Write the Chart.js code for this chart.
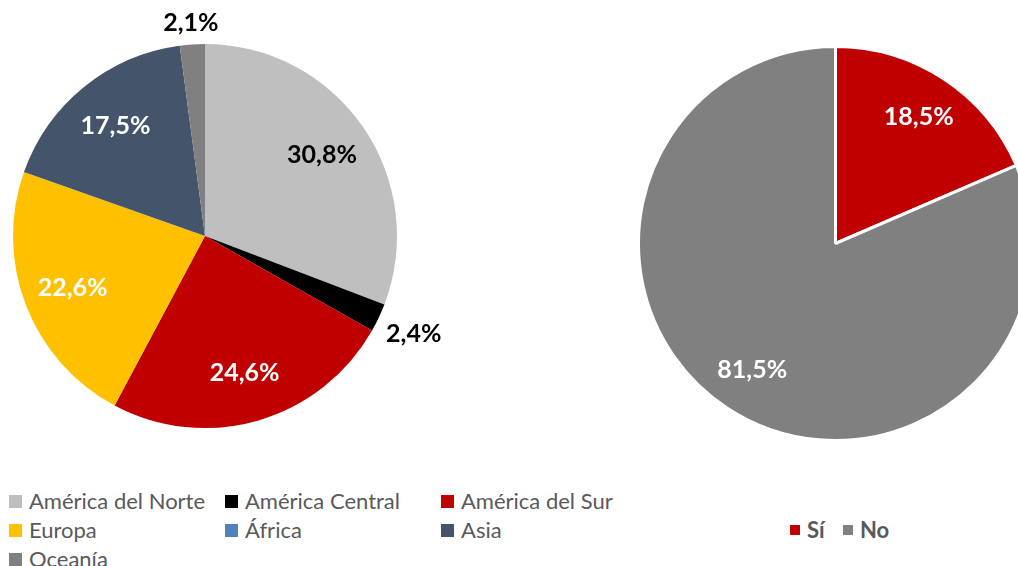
<!DOCTYPE html>
<html>
<head>
<meta charset="utf-8">
<script src="https://cdn.jsdelivr.net/npm/chart.js@4"></script>
<style>
    body { margin: 0; background: #fff; overflow: hidden; width: 1018px; height: 566px; position: relative; font-family: Lato, 'Open Sans', sans-serif; }
    canvas { position: absolute; }
    #izq { left: 0; top: 0; }
    #der { left: 600px; top: 0; }
    .item { position: absolute; color: #595959; font-size: 22px; line-height: 28px; white-space: nowrap; }
    .item span { position: absolute; top: 50%; }
    .bold { font-weight: bold; }
</style>
</head>
<body>
<canvas id="izq" width="450" height="475"></canvas>
<canvas id="der" width="460" height="475"></canvas>
<div id="leyendas"></div>

<script>
// datos de las regiones
const regiones = ['América del Norte', 'América Central', 'América del Sur', 'Europa', 'África', 'Asia', 'Oceanía']
const porcRegiones = [30.8, 2.4, 24.6, 22.6, 0, 17.5, 2.1]
const coloresRegiones = ['#BFBFBF', '#000000', '#C00000', '#FFC000', '#4F81BD', '#44546A', '#808080']
const textoRegiones = ['#000', '#000', '#fff', '#fff', '#fff', '#fff', '#000']
const fueraRegiones = [false, true, false, false, false, false, true]

// datos sí / no
const respuestas = ['Sí', 'No']
const porcRespuestas = [18.5, 81.5]
const coloresRespuestas = ['#C00000', '#808080']
const textoRespuestas = ['#fff', '#fff']

const etiquetas = {
    id: 'etiquetas',
    afterDatasetsDraw(chart, args, opts) {
        const ctx = chart.ctx
        const meta = chart.getDatasetMeta(0)
        const datos = chart.data.datasets[0].data
        ctx.save()
        ctx.font = 'bold 25px Lato'
        ctx.textAlign = 'center'
        ctx.textBaseline = 'middle'
        meta.data.forEach((arc, i) => {
            if (!datos[i]) return
            const texto = datos[i].toFixed(1).replace('.', ',') + '%'
            const a = (arc.startAngle + arc.endAngle) / 2
            const r = arc.outerRadius
            let d = r * opts.dentro
            if (opts.fuera && opts.fuera[i]) {
                const w = ctx.measureText(texto).width
                d = r + 9 + Math.abs(Math.cos(a)) * w / 2 + Math.abs(Math.sin(a)) * 11
            }
            ctx.fillStyle = opts.colores[i]
            ctx.fillText(texto, arc.x + Math.cos(a) * d, arc.y + Math.sin(a) * d)
        })
        ctx.restore()
    }
}

new Chart(document.getElementById('izq'), {
    type: 'pie',
    data: {
        labels: regiones,
        datasets: [{
            data: porcRegiones,
            backgroundColor: coloresRegiones,
            borderWidth: 0
        }]
    },
    options: {
        responsive: false,
        animation: false,
        layout: { padding: { left: 13, right: 53, top: 44, bottom: 47 } },
        plugins: {
            legend: { display: false },
            tooltip: { enabled: false },
            etiquetas: { dentro: 0.74, colores: textoRegiones, fuera: fueraRegiones }
        }
    },
    plugins: [etiquetas]
})

new Chart(document.getElementById('der'), {
    type: 'pie',
    data: {
        labels: respuestas,
        datasets: [{
            data: porcRespuestas,
            backgroundColor: coloresRespuestas,
            borderColor: '#fff',
            borderWidth: 3
        }]
    },
    options: {
        responsive: false,
        animation: false,
        layout: { padding: { left: 37, right: 26, top: 45, bottom: 33 } },
        plugins: {
            legend: { display: false },
            tooltip: { enabled: false },
            etiquetas: { dentro: 0.77, colores: textoRespuestas }
        }
    },
    plugins: [etiquetas]
})

// leyendas en html
const leyendas = document.getElementById('leyendas')
function item(texto, color, x, y, caja, bold) {
    const div = document.createElement('div')
    div.className = 'item' + (bold ? ' bold' : '')
    div.style.left = x + 'px'
    div.style.top = (y - 14) + 'px'
    div.style.paddingLeft = (caja + 7) + 'px'
    div.textContent = texto
    const sq = document.createElement('span')
    sq.style.left = '0px'
    sq.style.width = caja + 'px'
    sq.style.height = caja + 'px'
    sq.style.marginTop = (-caja / 2) + 'px'
    sq.style.background = color
    div.appendChild(sq)
    leyendas.appendChild(div)
}
regiones.forEach((r, i) => {
    item(r, coloresRegiones[i], 9 + (i % 3) * 216, 501 + Math.floor(i / 3) * 29, 13, false)
})
respuestas.forEach((r, i) => {
    item(r, coloresRespuestas[i], 790 + i * 53, 530, 10, true)
})
</script>
</body>
</html>
